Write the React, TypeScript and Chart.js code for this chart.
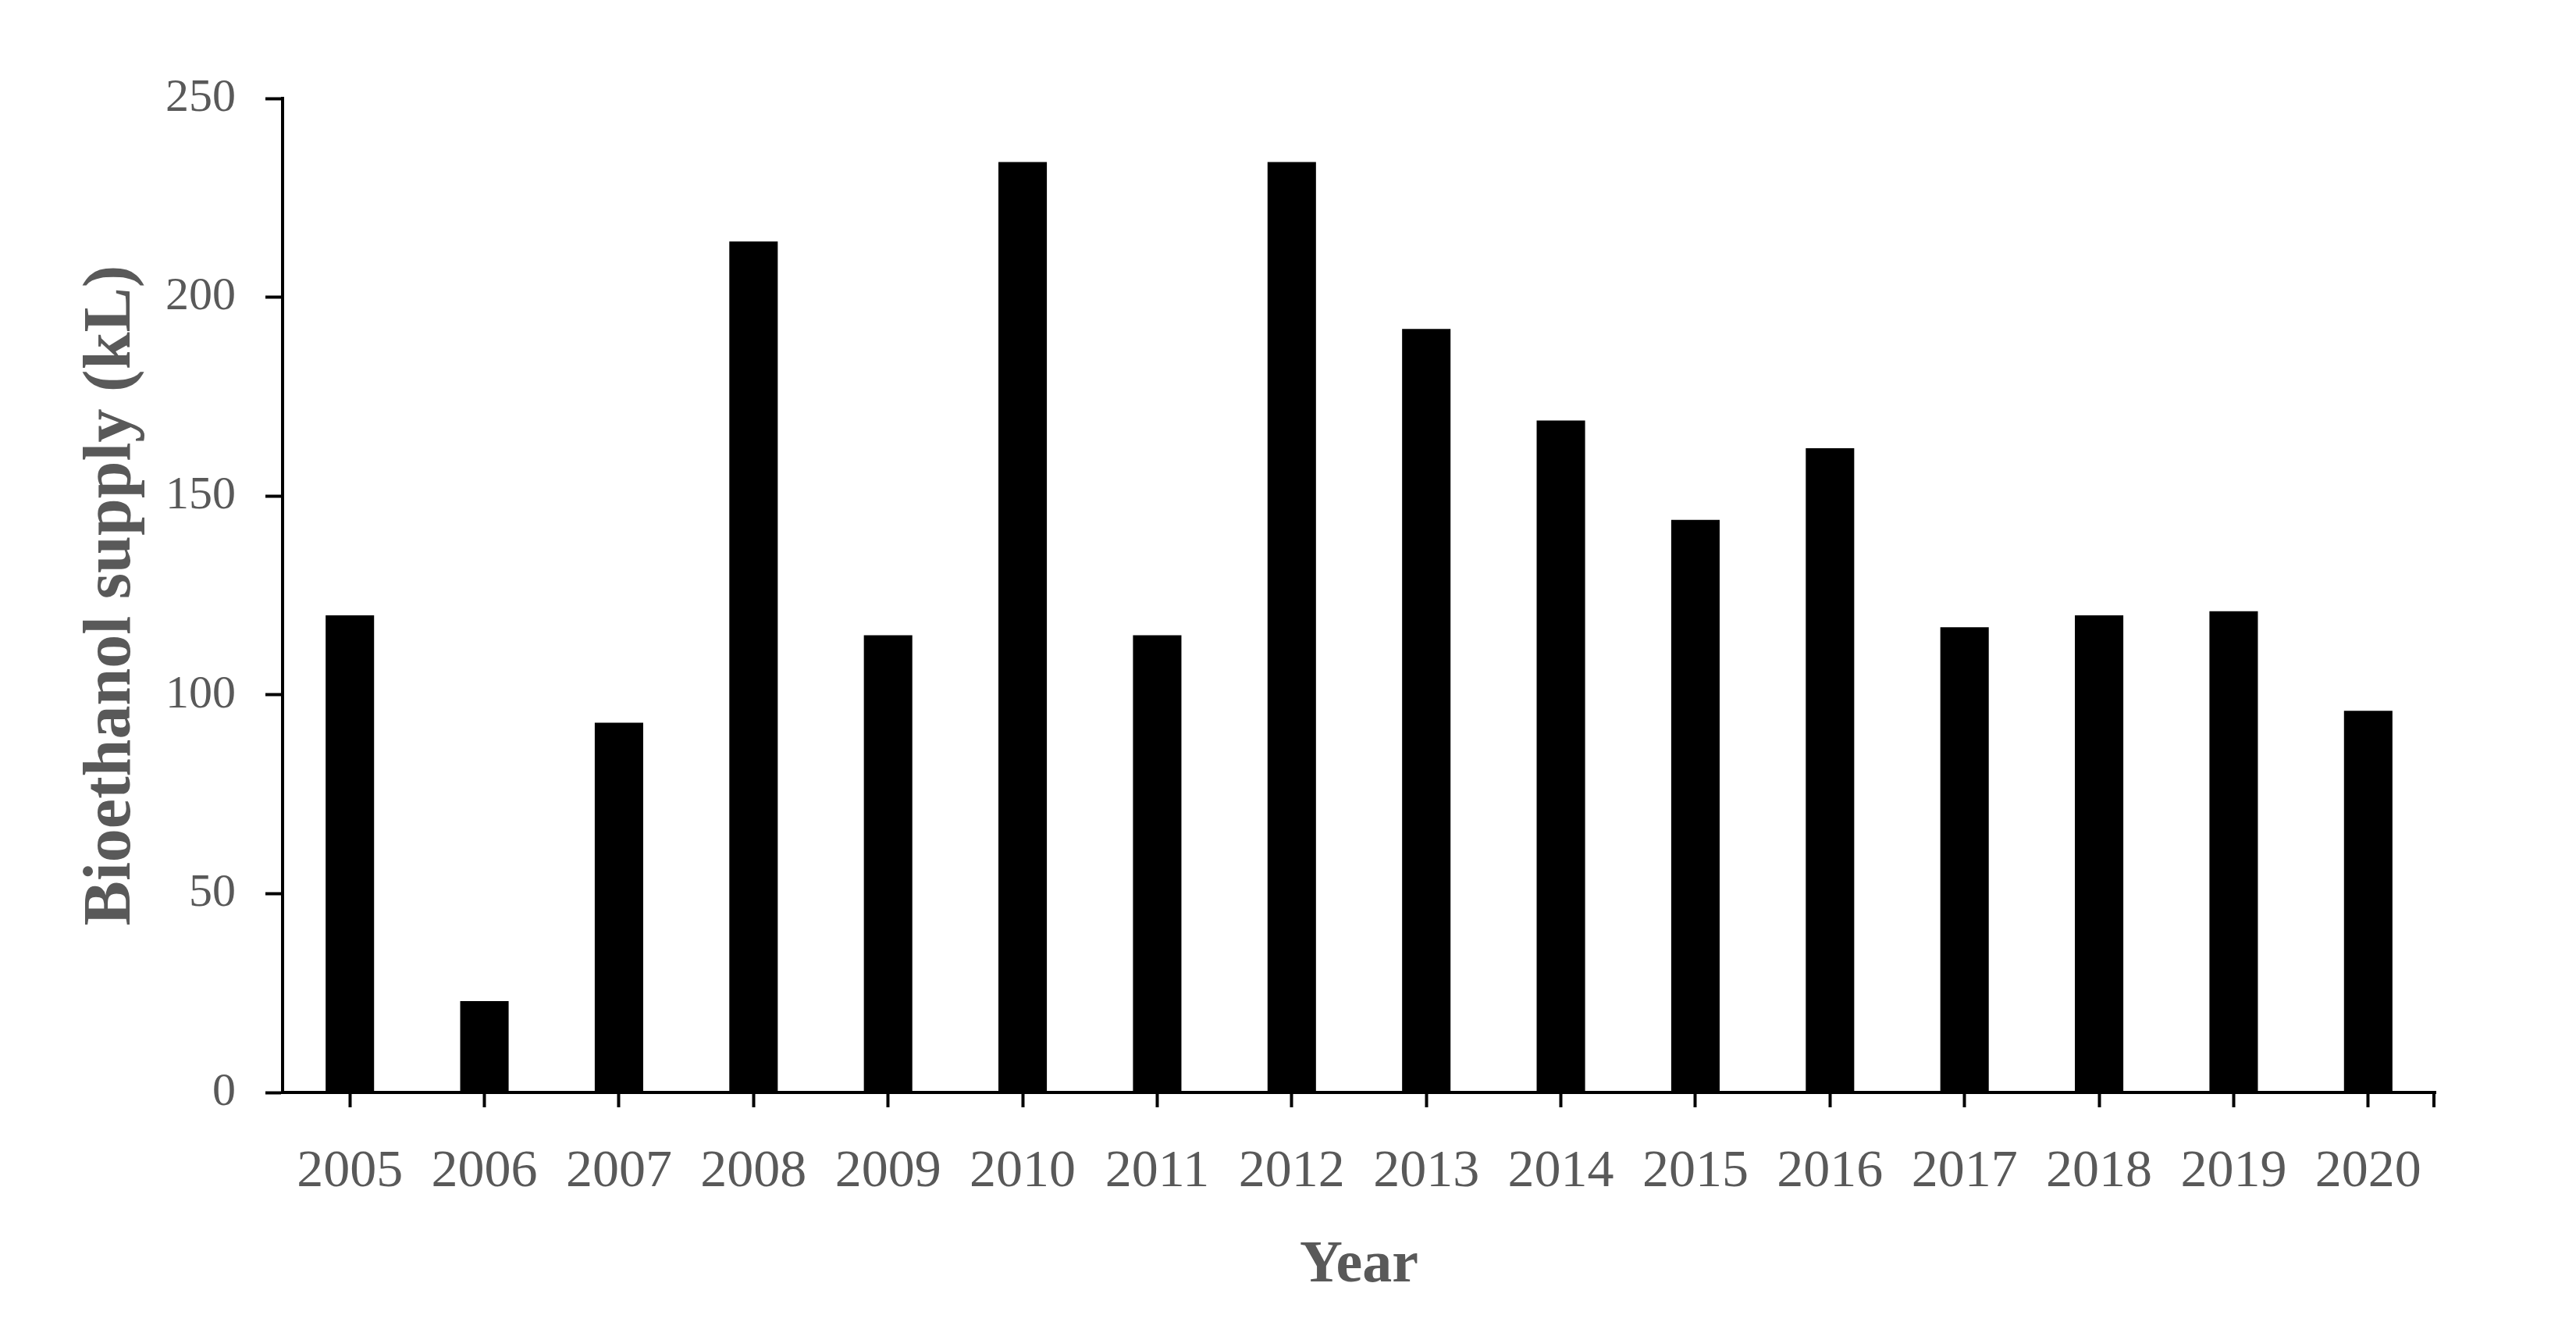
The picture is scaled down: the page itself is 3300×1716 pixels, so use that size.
import React, { useEffect, useRef } from "react";
import { Chart, registerables } from "chart.js";

Chart.register(...registerables);

const years = ["2005","2006","2007","2008","2009","2010","2011","2012","2013","2014","2015","2016","2017","2018","2019","2020"];
const supply = [120, 23, 93, 214, 115, 234, 115, 234, 192, 169, 144, 162, 117, 120, 121, 96];
const yTicks = [0, 50, 100, 150, 200, 250];
const yTitle = "Bioethanol supply (kL)";
const xTitle = "Year";

const W = 3300;
const H = 1716;
const GRAY = "#595959";
const FONT = "'Liberation Serif', 'Times New Roman', serif";

const endTickPlugin = {
  id: "endTick",
  afterDraw(chart: any) {
    const { ctx, chartArea } = chart;
    ctx.save();
    ctx.strokeStyle = "#000";
    ctx.lineWidth = 4;
    ctx.beginPath();
    ctx.moveTo(chartArea.right - 2, chartArea.bottom);
    ctx.lineTo(chartArea.right - 2, chartArea.bottom + 19);
    ctx.stroke();
    ctx.restore();
  },
};

export default function App() {
  const ref = useRef<HTMLCanvasElement | null>(null);
  useEffect(() => {
    if (!ref.current) return;
    const chart = new Chart(ref.current, {
      type: "bar",
      data: {
        labels: years,
        datasets: [
          {
            data: supply,
            backgroundColor: "#000",
            borderWidth: 0,
            barPercentage: 0.36,
            categoryPercentage: 1,
          },
        ],
      },
      plugins: [endTickPlugin],
      options: {
        responsive: false,
        animation: false,
        devicePixelRatio: 1,
        layout: { padding: { left: 0, right: 180, top: 126, bottom: 0 } },
        plugins: { legend: { display: false }, tooltip: { enabled: false } },
        scales: {
          x: {
            offset: true,
            grid: {
              display: true,
              drawOnChartArea: false,
              drawTicks: true,
              tickLength: 19,
              tickWidth: 4,
              tickColor: "#000",
              offset: false,
            },
            border: { display: true, color: "#000", width: 4 },
            ticks: {
              color: GRAY,
              font: { family: FONT, size: 68 },
              padding: 42,
              maxRotation: 0,
              autoSkip: false,
            },
            title: {
              display: true,
              text: xTitle,
              color: GRAY,
              font: { family: FONT, size: 76, weight: "bold" },
              padding: { top: 0, bottom: 49 },
            },
            afterFit: (s: any) => {
              s.height = H - 1399;
            },
          },
          y: {
            min: 0,
            max: 250,
            afterBuildTicks: (s: any) => {
              s.ticks = yTicks.map((v) => ({ value: v }));
            },
            grid: {
              display: true,
              drawOnChartArea: false,
              drawTicks: true,
              tickLength: 22,
              tickWidth: 4,
              tickColor: "#000",
            },
            border: { display: true, color: "#000", width: 4 },
            ticks: {
              color: GRAY,
              font: { family: FONT, size: 60 },
              padding: 38,
            },
            title: {
              display: true,
              text: yTitle,
              color: GRAY,
              font: { family: FONT, size: 86, weight: "bold" },
              padding: { top: 92, bottom: 0 },
            },
            afterFit: (s: any) => {
              s.width = 362;
            },
          },
        },
      },
    });
    return () => chart.destroy();
  }, []);
  return (
    <div style={{ position: "fixed", left: 0, top: 0, width: W, height: H, background: "#fff" }}>
      <canvas ref={ref} width={W} height={H} style={{ width: W, height: H, display: "block" }} />
    </div>
  );
}
